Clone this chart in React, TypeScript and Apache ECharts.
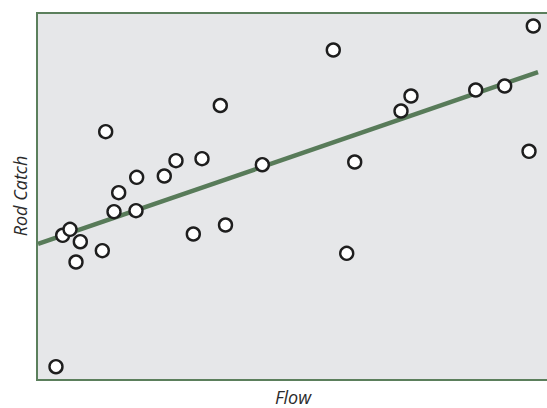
import React, { useEffect, useRef } from "react";
import * as echarts from "echarts";

const flow = [3.65, 4.94, 6.35, 7.5, 8.33, 12.56, 13.21, 14.81, 15.71, 19.04, 19.17, 24.48, 26.73, 30.06, 31.73, 35.25, 36.25, 43.33, 56.98, 59.56, 61.1, 70.0, 71.92, 84.37, 89.94, 94.62, 95.44];
const rodCatch = [3.62, 39.43, 41.06, 32.15, 37.68, 35.23, 67.66, 45.86, 51.04, 46.13, 55.23, 55.59, 59.76, 39.78, 60.3, 74.8, 42.23, 58.66, 89.92, 34.52, 59.4, 73.3, 77.38, 79.02, 80.11, 62.32, 96.46];
const trendFlow = [0.2, 96.35];
const trendCatch = [37.06, 83.92];

export default function App() {
  const ref = useRef<HTMLDivElement>(null);
  useEffect(() => {
    document.body.style.margin = "0";
    if (!ref.current) return;
    const chart = echarts.init(ref.current, null, { renderer: "svg" });
    const font = "italic 18px 'Open Sans', 'Noto Sans', sans-serif";
    chart.setOption({
      animation: false,
      grid: {
        left: 37,
        top: 13,
        width: 520,
        height: 367,
        outerBoundsMode: "none",
        containLabel: false,
        show: true,
        backgroundColor: "#e6e7e9",
        borderColor: "#5b7f5c",
        borderWidth: 2,
      },
      xAxis: {
        type: "value",
        min: 0,
        max: 100,
        axisLine: { show: false },
        axisTick: { show: false },
        axisLabel: { show: false },
        splitLine: { show: false },
      },
      yAxis: {
        type: "value",
        min: 0,
        max: 100,
        axisLine: { show: false },
        axisTick: { show: false },
        axisLabel: { show: false },
        splitLine: { show: false },
      },
      graphic: [
        {
          type: "text",
          x: 293,
          y: 397,
          style: {
            text: "Flow",
            font,
            fill: "#2b2b2b",
            align: "center",
            verticalAlign: "middle",
          },
        },
        {
          type: "text",
          x: 20,
          y: 196,
          rotation: Math.PI / 2,
          style: {
            text: "Rod Catch",
            font,
            fill: "#2b2b2b",
            align: "center",
            verticalAlign: "middle",
          },
        },
      ],
      series: [
        {
          type: "line",
          data: trendFlow.map((x, i) => [x, trendCatch[i]]),
          symbol: "none",
          lineStyle: { color: "#587b59", width: 4.5 },
          z: 2,
        },
        {
          type: "scatter",
          data: flow.map((x, i) => [x, rodCatch[i]]),
          symbol: "circle",
          symbolSize: 13,
          itemStyle: { color: "#ffffff", borderColor: "#1e1e1e", borderWidth: 2.4, opacity: 1 },
          z: 3,
        },
      ],
    });
    return () => chart.dispose();
  }, []);
  return <div ref={ref} style={{ width: 547, height: 408 }} />;
}
